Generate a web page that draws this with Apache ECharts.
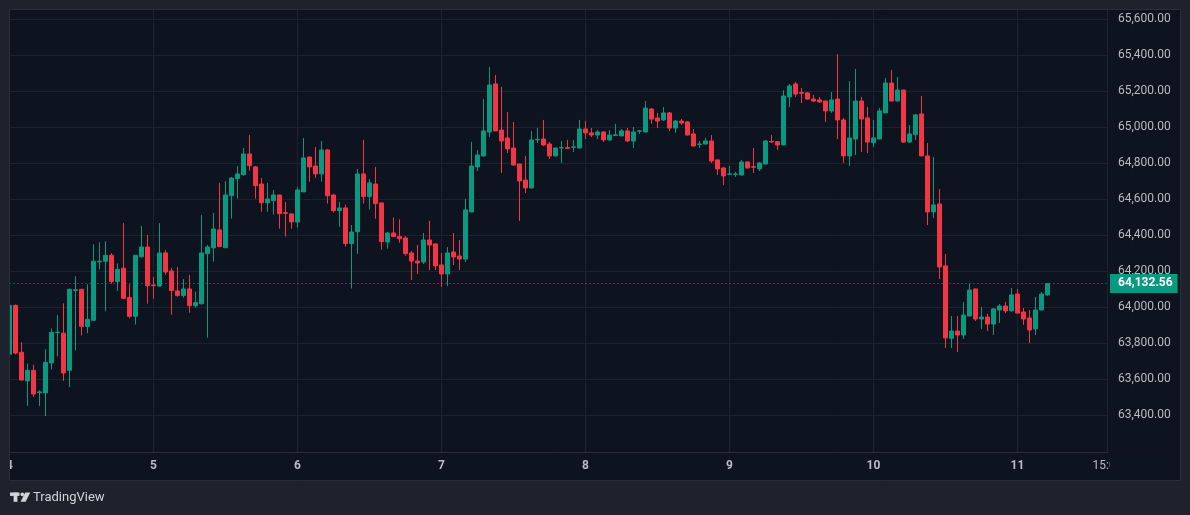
<!DOCTYPE html>
<html><head><meta charset="utf-8">
<script src="https://cdn.jsdelivr.net/npm/echarts@6/dist/echarts.min.js"></script>
<style>html,body{margin:0;padding:0;background:#1e222c;overflow:hidden}#c{width:1190px;height:515px}</style>
</head><body><div id="c"></div>
<script>
// Hourly candles; first candle starts at hour 0 = May 4 00:00
const startHour = 0;
const opens = [63739,64011,63750,63591,63650,63526,63524,63691,63859,63856,63650,
64094,64100,63894,63928,64252,64256,64289,64144,64217,64055,
63950,64281,64335,64124,64118,64302,64202,64091,64065,64102,
64009,64020,64298,64331,64430,64331,64620,64715,64737,64852,
64780,64685,64581,64593,64624,64526,64519,64474,64641,64835,
64785,64741,64874,64624,64537,64552,64354,64420,64741,64615,
64685,64580,64363,64413,64393,64385,64302,64257,64252,64374,
64352,64235,64185,64307,64285,64268,64530,64780,64841,64974,
65241,64985,64941,64885,64796,64707,64663,64930,64935,64907,
64841,64885,64887,64889,64885,64991,64969,64957,64974,64930,
64955,64952,64980,64924,64978,64974,65102,65052,65041,65080,
64996,65035,65030,64963,64905,64907,64924,64819,64774,64739,
64739,64735,64807,64781,64769,64796,64922,64920,64902,65169,
65241,65193,65191,65157,65152,65146,65091,65157,65041,64841,
64935,65146,65052,64915,64935,65080,65246,65146,65207,64918,
64959,65074,64841,64530,64574,64230,63828,63868,63846,63952,
64102,63935,63946,63907,63985,64007,63980,64074,63974,63941,
63880,63985,64069];
const closes = [64011,63746,63596,63650,63518,63530,63694,63861,63862,63635,64100,
64098,63894,63933,64256,64256,64289,64144,64211,64050,63950,
64289,64335,64120,64120,64302,64196,64093,64065,64102,64009,
64026,64302,64335,64435,64337,64624,64718,64741,64852,64787,
64676,64581,64602,64624,64520,64522,64474,64652,64830,64780,
64741,64874,64620,64537,64552,64354,64418,64741,64615,64691,
64576,64365,64413,64393,64381,64298,64257,64246,64374,64346,
64230,64185,64302,64280,64268,64541,64785,64846,64980,65235,
64980,64924,64880,64791,64702,64663,64930,64933,64902,64841,
64885,64887,64883,64891,64991,64969,64957,64974,64930,64957,
64958,64980,64924,64974,64980,65107,65046,65035,65080,64996,
65035,65024,64957,64896,64907,64924,64813,64769,64730,64741,
64741,64807,64774,64778,64802,64924,64918,64902,65174,65230,
65185,65189,65157,65146,65141,65091,65152,65041,64841,64941,
65146,65046,64918,64941,65091,65246,65146,65207,64918,64963,
65069,64841,64530,64569,64224,63830,63868,63846,63957,64096,
63935,63946,63907,63991,64007,63980,64069,63968,63935,63874,
63985,64074,64132.56];
const lows = [63735,63739,63594,63452,63502,63452,63396,63654,63728,63591,63557,
63761,63844,63857,63924,64211,63978,64131,64091,64045,63939,
63905,64275,64020,64048,64114,64181,63959,64059,64054,63970,
63998,64015,63831,64254,64335,64330,64493,64604,64731,64759,
64604,64531,64531,64515,64437,64393,64437,64443,64640,64698,
64719,64698,64576,64526,64448,64337,64104,64298,64576,64543,
64493,64320,64326,64390,64359,64287,64152,64185,64241,64207,
64207,64113,64118,64235,64207,64252,64528,64757,64838,64946,
64978,64746,64857,64785,64480,64635,64661,64913,64896,64824,
64839,64802,64880,64863,64884,64935,64946,64935,64919,64924,
64952,64951,64919,64885,64963,64972,65019,64996,65035,64980,
64969,65013,64955,64894,64885,64905,64802,64735,64680,64735,
64724,64733,64772,64746,64757,64795,64913,64874,64900,65113,
65169,65135,65152,65141,65135,65030,65080,64935,64802,64785,
64846,64863,64857,64891,64933,65078,65145,65145,64913,64913,
64930,64840,64457,64496,64157,63774,63774,63752,63824,63950,
63924,63880,63868,63846,63913,63968,63978,63966,63902,63802,
63846,63983,64063];
const highs = [64015,64015,63806,63687,63681,63539,63767,63883,63956,64022,64104,
64172,64102,64128,64350,64361,64367,64300,64244,64468,64128,
64291,64452,64402,64168,64468,64318,64218,64224,64157,64180,
64087,64513,64346,64524,64691,64702,64724,64785,64885,64957,
64785,64718,64691,64652,64626,64585,64521,64669,64941,64837,
64891,64924,64880,64630,64585,64570,64457,64769,64930,64713,
64780,64582,64418,64500,64489,64396,64313,64346,64413,64480,
64357,64302,64335,64413,64374,64602,64919,64874,65157,65335,
65291,65224,65085,65030,64798,64841,64980,64996,65041,64919,
64887,64924,64930,64930,65041,65035,64996,64985,64980,64985,
65019,64991,64996,65002,64985,65146,65107,65080,65113,65085,
65041,65046,65035,64991,64924,64941,64957,64821,64780,64785,
64752,64819,64811,64885,64807,64930,64957,64924,65207,65241,
65252,65219,65196,65180,65169,65148,65196,65407,65052,65257,
65324,65169,65113,65041,65107,65274,65319,65280,65209,65013,
65074,65174,64913,64835,64657,64296,63952,63952,64030,64130,
64104,64002,63963,63996,64018,64030,64107,64102,63996,63985,
64057,64085,64135];
// time-axis labels (hours since May 4 00:00)
const timeTicks = [0,24,48,72,96,120,144,168,183];
const timeLabels = ['4','5','6','7','8','9','10','11','15:00'];
const priceTicks = [63400,63600,63800,64000,64200,64400,64600,64800,65000,65200,65400,65600];
const lastPrice = closes[closes.length - 1];

const UP = '#089981', DOWN = '#f23645';
const PANEL = '#0e1320', OUTER = '#1e222c', GRID = '#1d2230', BORDER = '#2a2e39', TXT = '#b8bbc3', LOGO = '#d1d4dc';
const fmt = v => Number(v).toLocaleString('en-US', {minimumFractionDigits: 2, maximumFractionDigits: 2});

const candles = opens.map((o, i) => [startHour + i, o, closes[i], lows[i], highs[i]]);

const chart = echarts.init(document.getElementById('c'), null, {renderer: 'canvas'});
chart.setOption({
  animation: false,
  backgroundColor: PANEL,
  grid: {left: 9.5, top: 10, width: 1098.5, height: 442.5, outerBoundsMode: 'none', containLabel: false},
  xAxis: {
    type: 'value', min: 0, max: 183.083,
    axisLine: {show: true, onZero: false, lineStyle: {color: BORDER, width: 1}},
    axisTick: {show: false, customValues: timeTicks},
    splitLine: {show: true, lineStyle: {color: GRID, width: 1}},
    axisLabel: {
      customValues: timeTicks, margin: 7, fontFamily: 'Roboto', fontSize: 12, color: TXT,
      formatter: v => {
        const i = timeTicks.indexOf(Math.round(v));
        if (i < 0) return '';
        const t = timeLabels[i];
        return t.indexOf(':') >= 0 ? '{n|' + t + '}' : '{d|' + t + '}';
      },
      rich: {
        d: {fontFamily: 'Roboto', fontSize: 12, fontWeight: 'bold', color: TXT},
        n: {fontFamily: 'Roboto', fontSize: 12, fontWeight: 'normal', color: TXT}
      }
    }
  },
  yAxis: {
    type: 'value', position: 'right', min: 63193.3, max: 65651.7, scale: true,
    axisLine: {show: false, onZero: false},
    axisTick: {show: false, customValues: priceTicks},
    splitLine: {show: true, lineStyle: {color: GRID, width: 1}},
    axisLabel: {customValues: priceTicks, formatter: fmt, margin: 10, fontFamily: 'Roboto', fontSize: 12, color: TXT}
  },
  series: [{
    type: 'candlestick',
    data: candles,
    encode: {x: 0, y: [1, 2, 3, 4]},
    barWidth: 4,
    clip: true,
    itemStyle: {color: UP, color0: DOWN, borderColor: UP, borderColor0: DOWN, borderColorDoji: UP, borderWidth: 1},
    emphasis: {disabled: true},
    markLine: {
      silent: true, symbol: 'none', animation: false,
      data: [{yAxis: lastPrice}],
      lineStyle: {color: UP, type: [1, 3], width: 1},
      label: {
        show: true, position: 'end', distance: 2, formatter: () => fmt(lastPrice),
        backgroundColor: UP, color: '#ffffff', fontFamily: 'Roboto', fontSize: 12, fontWeight: 'bold',
        padding: [4, 5, 3, 8]
      },
      emphasis: {disabled: true}
    }
  }],
  graphic: [
    // outer frame around the chart panel
    {type: 'rect', z: 100, shape: {x: 0, y: 0, width: 1190, height: 10}, style: {fill: OUTER}},
    {type: 'rect', z: 100, shape: {x: 0, y: 0, width: 10, height: 515}, style: {fill: OUTER}},
    {type: 'rect', z: 100, shape: {x: 1180, y: 0, width: 10, height: 515}, style: {fill: OUTER}},
    {type: 'rect', z: 100, shape: {x: 0, y: 480, width: 1190, height: 35}, style: {fill: OUTER}},
    // price-scale corner covering overflow of the last time label
    {type: 'rect', z: 99, shape: {x: 1110, y: 453.5, width: 70, height: 26.5}, style: {fill: PANEL}},
    {type: 'rect', z: 101, shape: {x: 9.5, y: 9.5, width: 1171, height: 471}, style: {fill: 'none', stroke: BORDER, lineWidth: 1}},
    // TradingView watermark
    {type: 'rect', z: 110, shape: {x: 10, y: 492.5, width: 9.5, height: 3.4}, style: {fill: LOGO}},
    {type: 'rect', z: 110, shape: {x: 13.6, y: 492.5, width: 3.8, height: 9.3}, style: {fill: LOGO}},
    {type: 'circle', z: 110, shape: {cx: 22.3, cy: 494.3, r: 1.9}, style: {fill: LOGO}},
    {type: 'polygon', z: 110, shape: {points: [[25.2, 492.5], [30.3, 492.5], [25.6, 501.8], [20.6, 501.8]]}, style: {fill: LOGO}},
    {type: 'text', z: 110, x: 33, y: 497.5, style: {text: 'TradingView', fill: LOGO, font: '13px Roboto', verticalAlign: 'middle', align: 'left'}}
  ]
});
</script>
</body></html>
